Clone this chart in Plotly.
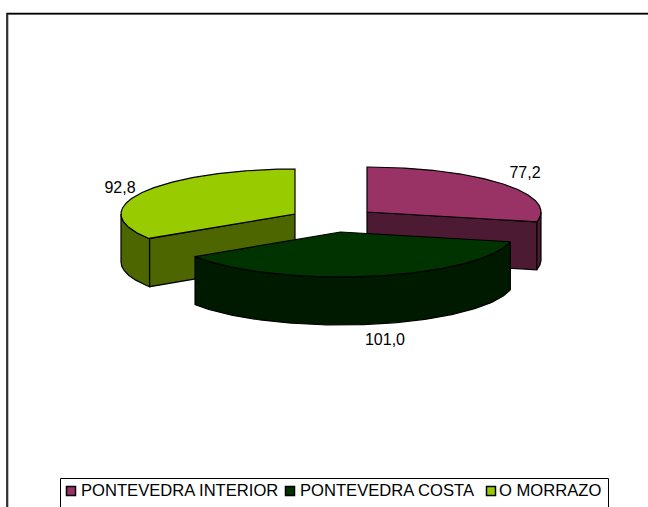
import numpy as np
import plotly.graph_objects as go

categories = ["PONTEVEDRA INTERIOR", "PONTEVEDRA COSTA", "O MORRAZO"]
values = [77.2, 101.0, 92.8]
value_labels = ["77,2", "101,0", "92,8"]

top_colors = ["#993366", "#003300", "#99CC00"]
side_colors = ["#4D1A33", "#001A00", "#4D6600"]

# projection of the exploded 3-D pie, in page pixels
centers = [(367, 212), (340.5, 232), (295, 214)]
RX, RY, DEPTH = 174, 45, 48
label_xy = [(525, 173.5), (385, 340.5), (120, 189)]
legend_key_xy = [(71, 491), (290, 491), (491, 491)]
legend_text_xy = [(81, 492), (300, 492), (499, 492)]
draw_order = [0, 2, 1]
FONT = "Liberation Sans"
EDGE = dict(color="#000000", width=1.2)

total = sum(values)
edges = np.concatenate([[0], np.cumsum(values)]) * 360 / total


def rim(c, angle, drop=0.0):
    t = np.radians(angle)
    return c[0] + RX * np.sin(t), c[1] - RY * np.cos(t) + drop


def poly(fig, xs, ys, color):
    fig.add_trace(go.Scatter(
        x=list(xs) + [xs[0]], y=list(ys) + [ys[0]], mode="lines", fill="toself",
        fillcolor=color, line=EDGE, hoverinfo="skip", showlegend=False))


fig = go.Figure()

for i in draw_order:
    c, a0, a1 = centers[i], edges[i], edges[i + 1]
    # flat cut faces turned towards the viewer
    for a in (a0, a1):
        if 90 < a < 270 and (a == a1) == (a < 180):
            x, y = rim(c, a)
            poly(fig, [c[0], x, x, c[0]], [c[1], y, y + DEPTH, c[1] + DEPTH], side_colors[i])
    # visible part of the outer wall
    lo, hi = max(a0, 90), min(a1, 270)
    if lo < hi:
        th = np.linspace(lo, hi, 120)
        x, y = rim(c, th)
        poly(fig, np.r_[x, x[::-1]], np.r_[y, y[::-1] + DEPTH], side_colors[i])
    # top face
    th = np.linspace(a0, a1, 240)
    x, y = rim(c, th)
    poly(fig, np.r_[c[0], x], np.r_[c[1], y], top_colors[i])

# value labels
fig.add_trace(go.Scatter(
    x=[p[0] for p in label_xy], y=[p[1] for p in label_xy], mode="text", text=value_labels,
    textposition="middle center", textfont=dict(family=FONT, size=16, color="#000000"),
    hoverinfo="skip", showlegend=False))

# legend keys and names
fig.add_trace(go.Scatter(
    x=[p[0] for p in legend_key_xy], y=[p[1] for p in legend_key_xy], mode="markers",
    marker=dict(symbol="square", size=9, color=top_colors, line=dict(color="#000000", width=1.5)),
    hoverinfo="skip", showlegend=False))
fig.add_trace(go.Scatter(
    x=[p[0] for p in legend_text_xy], y=[p[1] for p in legend_text_xy], mode="text", text=categories,
    textposition="middle right", textfont=dict(family=FONT, size=16.6, color="#000000"),
    hoverinfo="skip", showlegend=False))

shapes = [
    dict(type="rect", x0=8, y0=14.5, x1=700, y1=560, line=dict(color="#808080", width=1), layer="below"),
    dict(type="rect", x0=7, y0=13.5, x1=700, y1=560, line=dict(color="#000000", width=1.5), layer="below"),
    dict(type="rect", x0=60.5, y0=478.5, x1=608.5, y1=560, line=dict(color="#000000", width=1), layer="below"),
]

fig.update_layout(
    width=648, height=507, margin=dict(l=0, r=0, t=0, b=0), autosize=False,
    paper_bgcolor="#FFFFFF", plot_bgcolor="#FFFFFF", showlegend=False, shapes=shapes,
    xaxis=dict(range=[0, 648], visible=False, fixedrange=True),
    yaxis=dict(range=[507, 0], visible=False, fixedrange=True),
)
fig.write_html("out.html", config={"displayModeBar": False},
               post_script="document.body.style.margin='0';document.documentElement.style.overflow='hidden';")
